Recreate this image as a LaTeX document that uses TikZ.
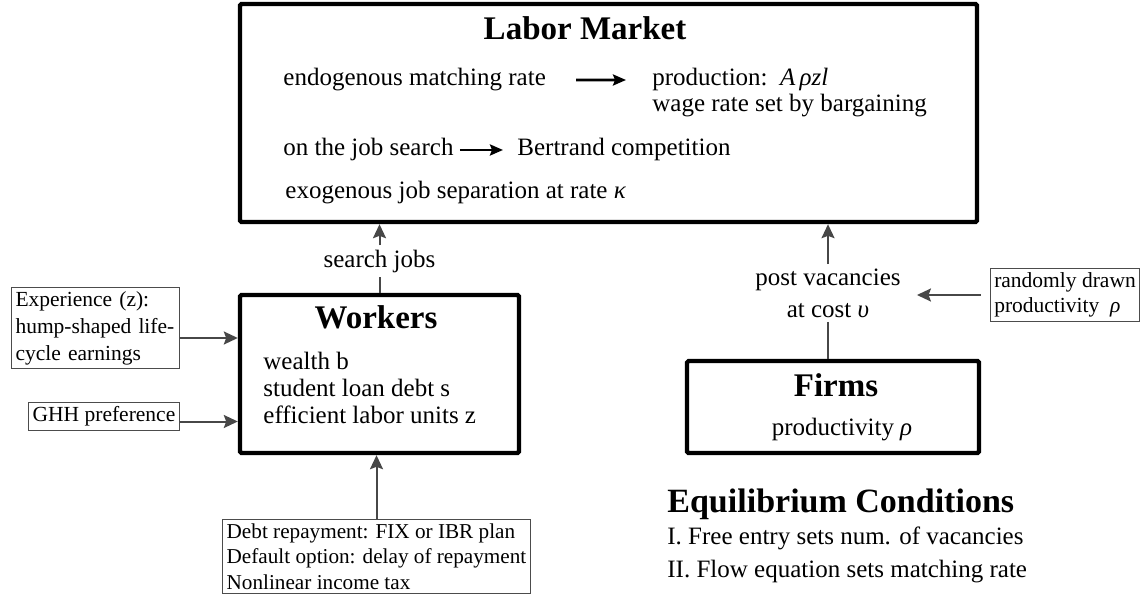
\documentclass[tikz,border=0pt]{standalone}
\usepackage{fontspec}
\setmainfont{Liberation Serif}
\usetikzlibrary{arrows.meta,fit}
\begin{document}
\begin{tikzpicture}[x=0.5pt,y=-0.5pt,
    >={Stealth[length=7pt,width=6.5pt,inset=1.2pt]},
    bigbox/.style={draw,line width=2.2pt,rounded corners=0.8pt,inner sep=0pt},
    smallbox/.style={draw=black!70,line width=0.6pt,inner sep=2pt,align=left,
      font=\fontsize{10.75}{13.5}\selectfont},
    title/.style={anchor=base,inner sep=0pt,font=\fontsize{16.5}{19}\selectfont\bfseries},
    txt/.style={anchor=base west,inner sep=0pt,font=\fontsize{12.5}{15}\selectfont},
    flow/.style={->,draw=black!72,line width=1pt},
    link/.style={draw=black!72,line width=1pt},
    implies/.style={->,line width=1.3pt,>={Stealth[length=6.5pt,width=5.5pt,inset=1pt]}}]
  \useasboundingbox (0,0) rectangle (1143,598);

  \node[bigbox,fit={(240,4) (977,222)}] (labor) {};
  \node[title] (lmtitle) at (585,40) {Labor Market};
  \node[txt] (endo) at (283,86) {endogenous matching rate};
  \node[txt] (prod) at (652,86) {production:\enspace\textit{A\,ρzl}};
  \node[txt] (wage) at (652,112) {wage rate set by bargaining};
  \node[txt] (ojs) at (283,156) {on the job search};
  \node[txt] (bert) at (517,156) {Bertrand competition};
  \node[txt] (sep) at (285,199) {exogenous job separation at rate \textit{κ}};
  \draw[implies,shorten <=15pt,shorten >=13pt] (endo.east) -- (prod.west);
  \draw[implies,shorten <=3pt,shorten >=7pt] (ojs.east) -- (bert.west);

  \node[bigbox,fit={(240,295) (519,453)}] (workers) {};
  \node[title] (wtitle) at (376,328) {Workers};
  \node[txt] (wealth) at (263,369) {wealth b};
  \node[txt] (loan) at (263,396) {student loan debt s};
  \node[txt] (units) at (263,423) {efficient labor units z};

  \node[bigbox,fit={(687,361) (979,453)}] (firms) {};
  \node[title] (ftitle) at (836,396) {Firms};
  \node[txt,anchor=base] (prodty) at (842,435) {productivity \textit{ρ}};

  \node[smallbox,text width=80pt] (exper) at (95.5,328) {Experience (z):\\hump-shaped life-\\cycle earnings};
  \node[smallbox] (ghh) at (104,416.5) {GHH preference};
  \node[smallbox,font=\fontsize{10.6}{12.75}\selectfont] (debt) at (376.5,556.5) {Debt repayment: FIX or IBR plan\\Default option: delay of repayment\\Nonlinear income tax};
  \node[smallbox,font=\fontsize{10.75}{12.5}\selectfont] (randprod) at (1065,295) {randomly drawn\\productivity\enspace\textit{ρ}};

  \node[font=\fontsize{12.5}{15}\selectfont,inner sep=2pt] (search) at (379.5,261) {search jobs};
  \node[font=\fontsize{12.5}{16}\selectfont,align=center,inner sep=2pt] (postvac) at (828,293) {post vacancies\\at cost \textit{υ}};

  \draw[link] (workers) -- (search);
  \draw[flow] (search.north) -- (labor.south -| search.north);
  \draw[link] (postvac.south) -- (postvac.south |- firms.north);
  \draw[flow] (postvac.north) -- (postvac.north |- labor.south);
  \draw[flow] ([yshift=-5pt]exper.east) -- ([yshift=-5pt]exper.east -| workers.west);
  \draw[flow] ([yshift=-2.5pt]ghh.east) -- ([yshift=-2.5pt]ghh.east -| workers.west);
  \draw[flow] (debt.north) -- (debt.north |- workers.south);
  \draw[flow,shorten <=4.5pt,shorten >=6pt] (randprod.west) -- (randprod.west -| postvac.east);

  \node[txt,font=\fontsize{17}{20}\selectfont\bfseries] (eqtitle) at (667,512) {Equilibrium Conditions};
  \node[txt] (eq1) at (667,544) {I. Free entry sets num. of vacancies};
  \node[txt] (eq2) at (667,577) {II. Flow equation sets matching rate};
\end{tikzpicture}
\end{document}
